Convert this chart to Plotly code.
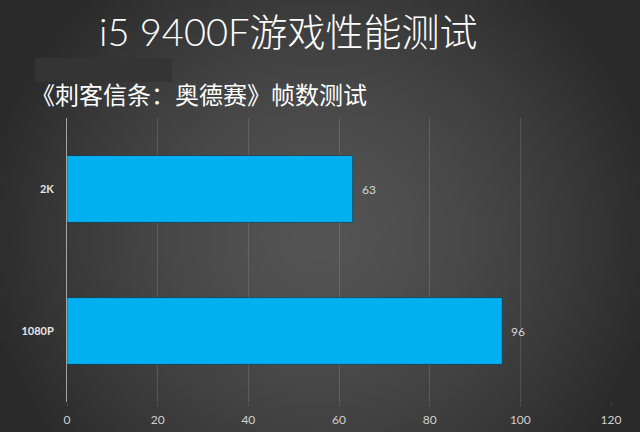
import base64, struct, zlib
import plotly.graph_objects as go

# ---- data ----
categories = ["2K", "1080P"]
fps_values = [63, 96]
x_ticks = [0, 20, 40, 60, 80, 100, 120]
title_text = "i5 9400F游戏性能测试"
subtitle_text = "《刺客信条：奥德赛》帧数测试"

# ---- radial gray background as a small PNG ----
def make_bg_png(w=160, h=108):
    cx, cy, rx, ry = 0.5, 0.55, 0.5, 0.72
    raw = bytearray()
    for j in range(h):
        raw.append(0)
        for i in range(w):
            dx = ((i + 0.5) / w - cx) / rx
            dy = ((j + 0.5) / h - cy) / ry
            r = (dx * dx + dy * dy) ** 0.5
            v = 84 - 38 * (r ** 1.5)
            v = int(max(42, min(255, v)))
            raw += bytes((v, v, v))
    def chunk(t, d):
        c = struct.pack(">I", len(d)) + t + d
        return c + struct.pack(">I", zlib.crc32(t + d) & 0xffffffff)
    png = b"\x89PNG\r\n\x1a\n"
    png += chunk(b"IHDR", struct.pack(">IIBBBBB", w, h, 8, 2, 0, 0, 0))
    png += chunk(b"IDAT", zlib.compress(bytes(raw), 9))
    png += chunk(b"IEND", b"")
    return "data:image/png;base64," + base64.b64encode(png).decode()

fig = go.Figure()
fig.add_trace(go.Bar(
    y=categories, x=fps_values, orientation="h",
    width=0.47,
    marker=dict(color="#00B0F0", line=dict(color="rgba(0,40,60,0.45)", width=1)),
    hoverinfo="skip",
))

annotations = []
for c, v in zip(categories, fps_values):
    annotations.append(dict(
        x=v, y=c, xref="x", yref="y", text=str(v), showarrow=False,
        xanchor="left", xshift=7, font=dict(family="Lato, Open Sans, sans-serif", size=12, color="#d8d8d8"),
    ))
annotations.append(dict(
    x=288, y=432 - 31, xref="paper", yref="paper", text=title_text, showarrow=False,
    font=dict(family="Lato, Noto Sans CJK SC", size=38, color="#ffffff", weight=300),
    xanchor="center", yanchor="middle",
))
annotations.append(dict(
    x=29, y=432 - 94, xref="paper", yref="paper", text=subtitle_text, showarrow=False,
    font=dict(family="Noto Sans CJK SC", size=24, color="#ffffff"),
    xanchor="left", yanchor="middle",
))
# convert paper annotations from pixel coords
W, H = 640, 432
ml, mr, mt, mb = 67, 29, 118, 30
pw, ph = W - ml - mr, H - mt - mb
for a in annotations[-2:]:
    a["x"] = (a["x"] - ml) / pw
    a["y"] = (a["y"] - mb) / ph

fig.update_layout(
    width=W, height=H,
    margin=dict(l=ml, r=mr, t=mt, b=mb, pad=0, autoexpand=False),
    paper_bgcolor="#444444",
    plot_bgcolor="rgba(0,0,0,0)",
    showlegend=False,
    images=[dict(source=make_bg_png(), xref="paper", yref="paper",
                 x=-ml / pw, y=1 + mt / ph, sizex=W / pw, sizey=H / ph,
                 xanchor="left", yanchor="top", sizing="stretch", layer="below")],
    shapes=[dict(type="rect", xref="paper", yref="paper",
                 x0=(35 - ml) / pw, x1=(172 - ml) / pw,
                 y0=(H - 82 - mb) / ph, y1=(H - 58 - mb) / ph,
                 fillcolor="#343434", line=dict(width=0), layer="below")],
    annotations=annotations,
    xaxis=dict(
        range=[0, 120], tickvals=x_ticks, ticktext=[str(t) for t in x_ticks],
        showgrid=True, gridcolor="rgba(255,255,255,0.13)", gridwidth=1,
        zeroline=False, showline=False, automargin=False,
        ticks="outside", ticklen=3, tickcolor="rgba(255,255,255,0.13)",
        tickfont=dict(family="Lato, Open Sans, sans-serif", size=12, color="#d0d0d0"),
        ticklabelstandoff=4,
        fixedrange=True,
    ),
    yaxis=dict(
        categoryorder="array", categoryarray=categories[::-1],
        showgrid=False, zeroline=False, automargin=False,
        showline=True, linecolor="rgba(255,255,255,0.55)", linewidth=1,
        ticks="outside", ticklen=10, tickcolor="rgba(0,0,0,0)",
        tickfont=dict(family="Lato, Open Sans, sans-serif", size=11, color="#e6e6e6", weight="bold"),
        fixedrange=True,
    ),
)
fig.write_html("out.html", config={"displayModeBar": False},
               post_script="document.body.style.margin='0';document.body.style.overflow='hidden';")
